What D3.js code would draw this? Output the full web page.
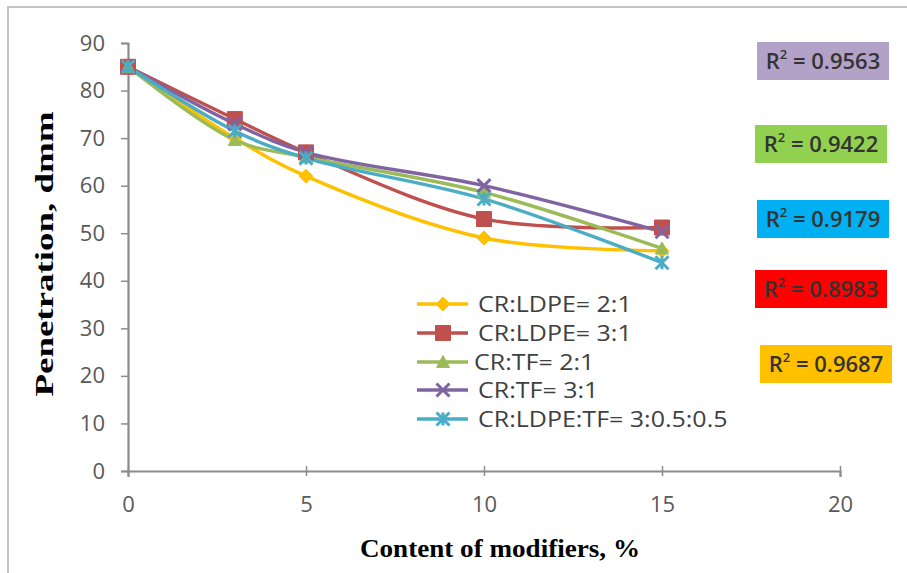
<!DOCTYPE html>
<html><head><meta charset="utf-8">
<script src="https://cdn.jsdelivr.net/npm/d3@7"></script>
<style>html,body{margin:0;padding:0;background:#fff;}svg{display:block;}</style>
</head><body>
<svg id="c" width="907" height="573"></svg>
<script>
const xValues = [0, 3, 5, 10, 15];
const seriesNames = ["CR:LDPE= 2:1", "CR:LDPE= 3:1", "CR:TF= 2:1", "CR:TF= 3:1", "CR:LDPE:TF= 3:0.5:0.5"];
const ldpe21 = [85, 70, 62, 49, 46.3];
const ldpe31 = [85, 74, 67, 53, 51.2];
const tf21 = [85, 69.6, 66, 58.6, 46.8];
const tf31 = [85, 73, 67, 60, 50.3];
const mix = [85, 71.5, 65.8, 57.2, 43.8];
const seriesColors = ["#ffc000", "#c0504d", "#9bbb59", "#8064a2", "#4bacc6"];
const markerTypes = ["diamond", "square", "triangle", "x", "star"];
const xTicks = [0, 5, 10, 15, 20];
const yTicks = [0, 10, 20, 30, 40, 50, 60, 70, 80, 90];
const r2Labels = ["0.9563", "0.9422", "0.9179", "0.8983", "0.9687"];
const r2Colors = ["#b3a2c7", "#92d050", "#00b0f0", "#ff0000", "#ffc000"];

const allSeries = [ldpe21, ldpe31, tf21, tf31, mix];
const svg = d3.select("#c");

// frame
svg.append("path").attr("d", "M8,573 L8,7 L907,7").attr("fill", "none")
  .attr("stroke", "#c4c4c4").attr("stroke-width", 2);

const x = d3.scaleLinear().domain([0, 20]).range([128, 840]);
const y = d3.scaleLinear().domain([0, 90]).range([471, 43]);
const axisColor = "#8c8c8c";
const tickFont = "'Open Sans', 'Noto Sans', sans-serif";

// y axis
const ya = svg.append("g").attr("transform", "translate(128,0)")
  .call(d3.axisLeft(y).tickValues(yTicks).tickSize(7).tickPadding(16));
ya.select(".domain").attr("stroke", axisColor).attr("stroke-width", 2.2);
ya.selectAll(".tick line").attr("stroke", axisColor).attr("stroke-width", 1.5);
ya.selectAll(".tick text").attr("fill", "#595959").attr("font-size", 22).attr("font-family", tickFont);

// x axis
const xa = svg.append("g").attr("transform", "translate(0,471)")
  .call(d3.axisBottom(x).tickValues(xTicks).tickSize(6).tickPadding(19));
xa.select(".domain").attr("stroke", axisColor).attr("stroke-width", 2.2);
xa.selectAll(".tick line").attr("stroke", axisColor).attr("stroke-width", 1.5).attr("y1", -5).attr("y2", 5);
xa.selectAll(".tick text").attr("fill", "#595959").attr("font-size", 22).attr("font-family", tickFont);

// axis titles
svg.append("text").attr("transform", "translate(53,254) rotate(-90)")
  .attr("text-anchor", "middle").attr("font-family", "'Liberation Serif', serif")
  .attr("font-weight", "bold").attr("font-size", 26).attr("fill", "#000")
  .attr("textLength", 285).attr("lengthAdjust", "spacingAndGlyphs")
  .text("Penetration, dmm");
svg.append("text").attr("x", 500).attr("y", 557)
  .attr("text-anchor", "middle").attr("font-family", "'Liberation Serif', serif")
  .attr("font-weight", "bold").attr("font-size", 26).attr("fill", "#000")
  .attr("textLength", 280).attr("lengthAdjust", "spacingAndGlyphs")
  .text("Content of modifiers, %");

function markerPath(type, s) {
  const h = s / 2;
  switch (type) {
    case "diamond": return `M0,${-h}L${h},0L0,${h}L${-h},0Z`;
    case "square": return `M${-h},${-h}H${h}V${h}H${-h}Z`;
    case "triangle": return `M0,${-h}L${h},${h * 0.85}L${-h},${h * 0.85}Z`;
    case "x": return `M${-h},${-h}L${h},${h}M${h},${-h}L${-h},${h}`;
    case "star": return `M${-h},${-h}L${h},${h}M${h},${-h}L${-h},${h}M0,${-h}V${h}`;
  }
}
function drawMarker(g, type, color, cx, cy) {
  const filled = type !== "x" && type !== "star";
  const sz = type === "diamond" ? 14 : (type === "square" ? 15 : 13);
  g.append("path").attr("transform", `translate(${cx},${cy})`)
    .attr("d", markerPath(type, sz))
    .attr("fill", filled ? color : "none")
    .attr("stroke", color).attr("stroke-width", filled ? 1 : 3);
}

const line = d3.line().x(d => x(d[0])).y(d => y(d[1])).curve(d3.curveCatmullRom.alpha(0.5));
const plot = svg.append("g");
allSeries.forEach((vals, i) => {
  const pts = xValues.map((xv, k) => [xv, vals[k]]);
  plot.append("path").attr("d", line(pts)).attr("fill", "none")
    .attr("stroke", seriesColors[i]).attr("stroke-width", 3.4).attr("stroke-linejoin", "round");
});
allSeries.forEach((vals, i) => {
  xValues.forEach((xv, k) => drawMarker(plot, markerTypes[i], seriesColors[i], x(xv), y(vals[k])));
});

// legend
const legend = svg.append("g");
const legRows = [304, 333, 362, 390, 419];
seriesNames.forEach((name, i) => {
  const ly = legRows[i];
  legend.append("line").attr("x1", 417).attr("x2", 468).attr("y1", ly).attr("y2", ly)
    .attr("stroke", seriesColors[i]).attr("stroke-width", 3.4);
  drawMarker(legend, markerTypes[i], seriesColors[i], 443, ly);
  legend.append("text")
    .attr("transform", `translate(${i === 2 ? 474 : 478},${ly}) scale(1.19,1)`)
    .attr("dy", "0.36em")
    .attr("font-family", tickFont).attr("font-size", 21).attr("fill", "#404040").text(name);
});

// R² boxes
const boxY = [42, 125, 200, 270, 345];
const boxX = [757, 755, 757, 755, 760];
r2Labels.forEach((lab, i) => {
  const g = svg.append("g").attr("transform", `translate(${boxX[i]},${boxY[i]})`);
  g.append("rect").attr("width", 132).attr("height", 38).attr("fill", r2Colors[i]);
  const t = g.append("text").attr("x", 66).attr("y", 19).attr("dy", "0.36em").attr("text-anchor", "middle")
    .attr("font-family", tickFont).attr("font-size", 22).attr("font-weight", 600).attr("fill", "#333");
  t.append("tspan").text("R");
  t.append("tspan").attr("font-size", 13).attr("dy", "-0.75em").text("2");
  t.append("tspan").attr("dy", "0.45em").text(" = " + lab);
});
</script>
</body></html>
